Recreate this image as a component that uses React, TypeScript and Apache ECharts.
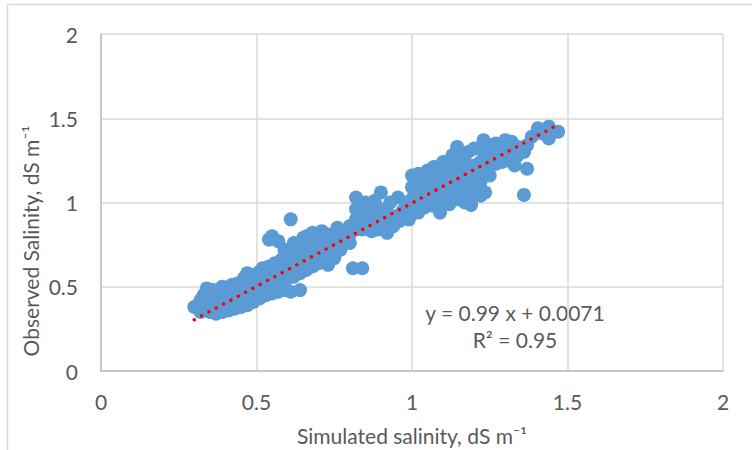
import React, { useEffect, useRef } from "react";
import * as echarts from "echarts";

// Axis ticks
const xTicks = [0, 0.5, 1, 1.5, 2];
const yTicks = [0, 0.5, 1, 1.5, 2];

// [simulated, observed] pairs
const lowerCluster: [number, number][] = [
  [0.30, 0.38],
  [0.32, 0.35], [0.32, 0.42],
  [0.33, 0.37], [0.33, 0.45], [0.34, 0.49],
  [0.35, 0.35], [0.35, 0.40], [0.36, 0.44], [0.36, 0.48],
  [0.37, 0.34], [0.38, 0.38], [0.38, 0.43], [0.38, 0.47],
  [0.39, 0.35], [0.40, 0.40], [0.40, 0.45], [0.39, 0.50],
  [0.41, 0.36], [0.42, 0.41], [0.42, 0.46], [0.42, 0.51],
  [0.43, 0.37], [0.44, 0.42], [0.44, 0.47], [0.44, 0.52],
  [0.45, 0.38], [0.46, 0.43], [0.46, 0.49], [0.46, 0.55],
  [0.47, 0.39], [0.48, 0.45], [0.48, 0.51], [0.47, 0.58],
  [0.49, 0.41], [0.50, 0.46], [0.50, 0.52], [0.49, 0.57], [0.52, 0.61],
  [0.51, 0.43], [0.52, 0.48], [0.52, 0.54], [0.51, 0.59],
  [0.53, 0.45], [0.54, 0.50], [0.54, 0.56], [0.54, 0.62], [0.54, 0.78],
  [0.55, 0.46], [0.56, 0.52], [0.56, 0.58], [0.56, 0.64], [0.57, 0.77], [0.55, 0.80],
  [0.57, 0.47], [0.58, 0.53], [0.58, 0.59], [0.58, 0.66], [0.59, 0.72],
  [0.59, 0.48], [0.60, 0.55], [0.60, 0.61], [0.60, 0.68], [0.61, 0.90],
  [0.61, 0.47], [0.62, 0.56], [0.62, 0.63], [0.62, 0.70], [0.62, 0.76],
  [0.64, 0.48], [0.64, 0.58], [0.64, 0.65], [0.64, 0.72], [0.65, 0.79],
];

const middleCluster: [number, number][] = [
  [0.66, 0.60], [0.66, 0.67], [0.66, 0.74], [0.66, 0.80],
  [0.68, 0.62], [0.68, 0.69], [0.69, 0.76], [0.68, 0.82],
  [0.70, 0.64], [0.70, 0.71], [0.71, 0.78], [0.71, 0.83],
  [0.73, 0.63], [0.73, 0.69], [0.73, 0.75], [0.73, 0.81],
  [0.75, 0.67], [0.75, 0.73], [0.76, 0.79], [0.76, 0.85],
  [0.77, 0.72], [0.78, 0.77], [0.78, 0.82],
  [0.81, 0.61], [0.84, 0.61],
  [0.80, 0.76], [0.80, 0.81], [0.80, 0.86],
  [0.82, 0.84], [0.82, 0.90], [0.82, 0.96], [0.82, 1.03],
  [0.84, 0.84], [0.84, 0.90], [0.85, 0.96], [0.85, 1.00],
  [0.87, 0.83], [0.87, 0.89], [0.87, 0.95], [0.88, 1.01],
  [0.89, 0.84], [0.90, 0.90], [0.90, 0.96], [0.90, 1.06],
  [0.92, 0.82], [0.92, 0.88], [0.92, 0.94], [0.93, 1.00],
  [0.94, 0.86], [0.95, 0.92], [0.955, 1.03],
  [0.96, 0.89], [0.97, 0.95], [0.98, 1.00],
];

const upperCluster: [number, number][] = [
  [0.99, 0.90], [0.99, 0.96], [1.00, 1.02], [1.00, 1.09], [1.00, 1.16],
  [1.02, 0.94], [1.02, 1.00], [1.02, 1.06], [1.03, 1.12], [1.02, 1.17],
  [1.04, 0.97], [1.05, 1.03], [1.05, 1.09], [1.04, 1.15], [1.05, 1.19],
  [1.07, 0.98], [1.07, 1.04], [1.07, 1.10], [1.07, 1.16], [1.07, 1.21],
  [1.09, 0.94], [1.09, 1.01], [1.09, 1.07], [1.10, 1.13], [1.10, 1.19], [1.10, 1.24],
  [1.12, 0.99], [1.12, 1.05], [1.12, 1.11], [1.12, 1.17], [1.13, 1.23], [1.13, 1.28],
  [1.145, 1.02], [1.15, 1.08], [1.15, 1.14], [1.15, 1.20], [1.15, 1.26], [1.145, 1.33],
  [1.17, 1.00], [1.17, 1.06], [1.17, 1.12], [1.17, 1.18], [1.17, 1.24], [1.18, 1.30],
  [1.19, 0.985], [1.19, 1.04], [1.20, 1.10], [1.20, 1.16], [1.20, 1.22], [1.20, 1.32],
  [1.22, 1.04], [1.22, 1.12], [1.22, 1.18], [1.22, 1.24], [1.23, 1.30], [1.23, 1.37],
  [1.235, 1.06], [1.25, 1.16], [1.25, 1.22], [1.25, 1.28], [1.25, 1.34],
  [1.27, 1.23], [1.27, 1.29], [1.27, 1.35],
  [1.29, 1.24], [1.29, 1.30], [1.30, 1.37],
  [1.31, 1.25], [1.32, 1.31], [1.32, 1.36],
  [1.33, 1.22], [1.34, 1.28], [1.34, 1.33],
  [1.36, 1.045], [1.37, 1.20], [1.36, 1.30], [1.37, 1.34],
  [1.385, 1.39], [1.405, 1.44], [1.42, 1.41], [1.44, 1.45], [1.44, 1.38], [1.47, 1.42], [1.43, 1.43],
];

// Linear trendline shown on the chart
const trendSlope = 0.99;
const trendIntercept = 0.0071;
const trendRange = [0.3, 1.47];

const equationText = "y = 0.99 x + 0.0071";
const r2Text = "R² = 0.95";
const xTitle = "Simulated salinity, dS m⁻¹";
const yTitle = "Observed Salinity, dS m⁻¹";

export default function App() {
  const ref = useRef<HTMLDivElement>(null);

  useEffect(() => {
    if (!ref.current) return;
    const chart = echarts.init(ref.current, null, { renderer: "svg" });
    const font = "Lato, 'Open Sans', sans-serif";
    const textColor = "#595959";
    const points = [...lowerCluster, ...middleCluster, ...upperCluster];
    const trend = trendRange.map((x) => [x, trendSlope * x + trendIntercept]);

    chart.setOption({
      animation: false,
      backgroundColor: "#ffffff",
      textStyle: { fontFamily: font },
      grid: { left: 101, top: 34, right: 29, bottom: 79 },
      xAxis: {
        type: "value",
        min: xTicks[0],
        max: xTicks[xTicks.length - 1],
        interval: xTicks[1] - xTicks[0],
        axisLine: { show: true, lineStyle: { color: "#bfbfbf", width: 1.5 } },
        axisTick: { show: false },
        splitLine: { show: true, lineStyle: { color: "#d9d9d9", width: 1.5 } },
        axisLabel: { color: textColor, fontSize: 21, margin: 20, fontFamily: font },
      },
      yAxis: {
        type: "value",
        min: yTicks[0],
        max: yTicks[yTicks.length - 1],
        interval: yTicks[1] - yTicks[0],
        axisLine: { show: true, lineStyle: { color: "#bfbfbf", width: 1.5 } },
        axisTick: { show: false },
        splitLine: { show: true, lineStyle: { color: "#d9d9d9", width: 1.5 } },
        axisLabel: { color: textColor, fontSize: 21, margin: 23, fontFamily: font },
      },
      series: [
        {
          type: "scatter",
          data: points,
          symbol: "circle",
          symbolSize: 14,
          itemStyle: { color: "#5B9BD5", opacity: 1 },
          silent: true,
        },
        {
          type: "line",
          data: trend,
          showSymbol: false,
          symbol: "none",
          lineStyle: { color: "#FF0000", width: 3.5, type: [0.01, 8.3], cap: "round" },
          silent: true,
          z: 5,
        },
      ],
      graphic: [
        {
          type: "rect",
          shape: { x: 7.5, y: 4.5, width: 900, height: 600 },
          style: { fill: "none", stroke: "#d9d9d9", lineWidth: 1.5 },
          silent: true,
        },
        {
          type: "text",
          x: 30,
          y: 241,
          rotation: Math.PI / 2,
          style: {
            text: yTitle,
            fill: textColor,
            font: `21px ${font}`,
            align: "center",
            verticalAlign: "middle",
          },
        },
        {
          type: "text",
          x: 412,
          y: 435,
          style: {
            text: xTitle,
            fill: textColor,
            font: `21px ${font}`,
            align: "center",
            verticalAlign: "middle",
          },
        },
        {
          type: "text",
          x: 515,
          y: 312,
          style: {
            text: equationText,
            fill: textColor,
            font: `21px ${font}`,
            align: "center",
            verticalAlign: "middle",
          },
        },
        {
          type: "text",
          x: 515,
          y: 339,
          style: {
            text: r2Text,
            fill: textColor,
            font: `21px ${font}`,
            align: "center",
            verticalAlign: "middle",
          },
        },
      ],
    });

    return () => {
      chart.dispose();
    };
  }, []);

  return (
    <div
      ref={ref}
      style={{ position: "fixed", left: 0, top: 0, width: 752, height: 450 }}
    />
  );
}
